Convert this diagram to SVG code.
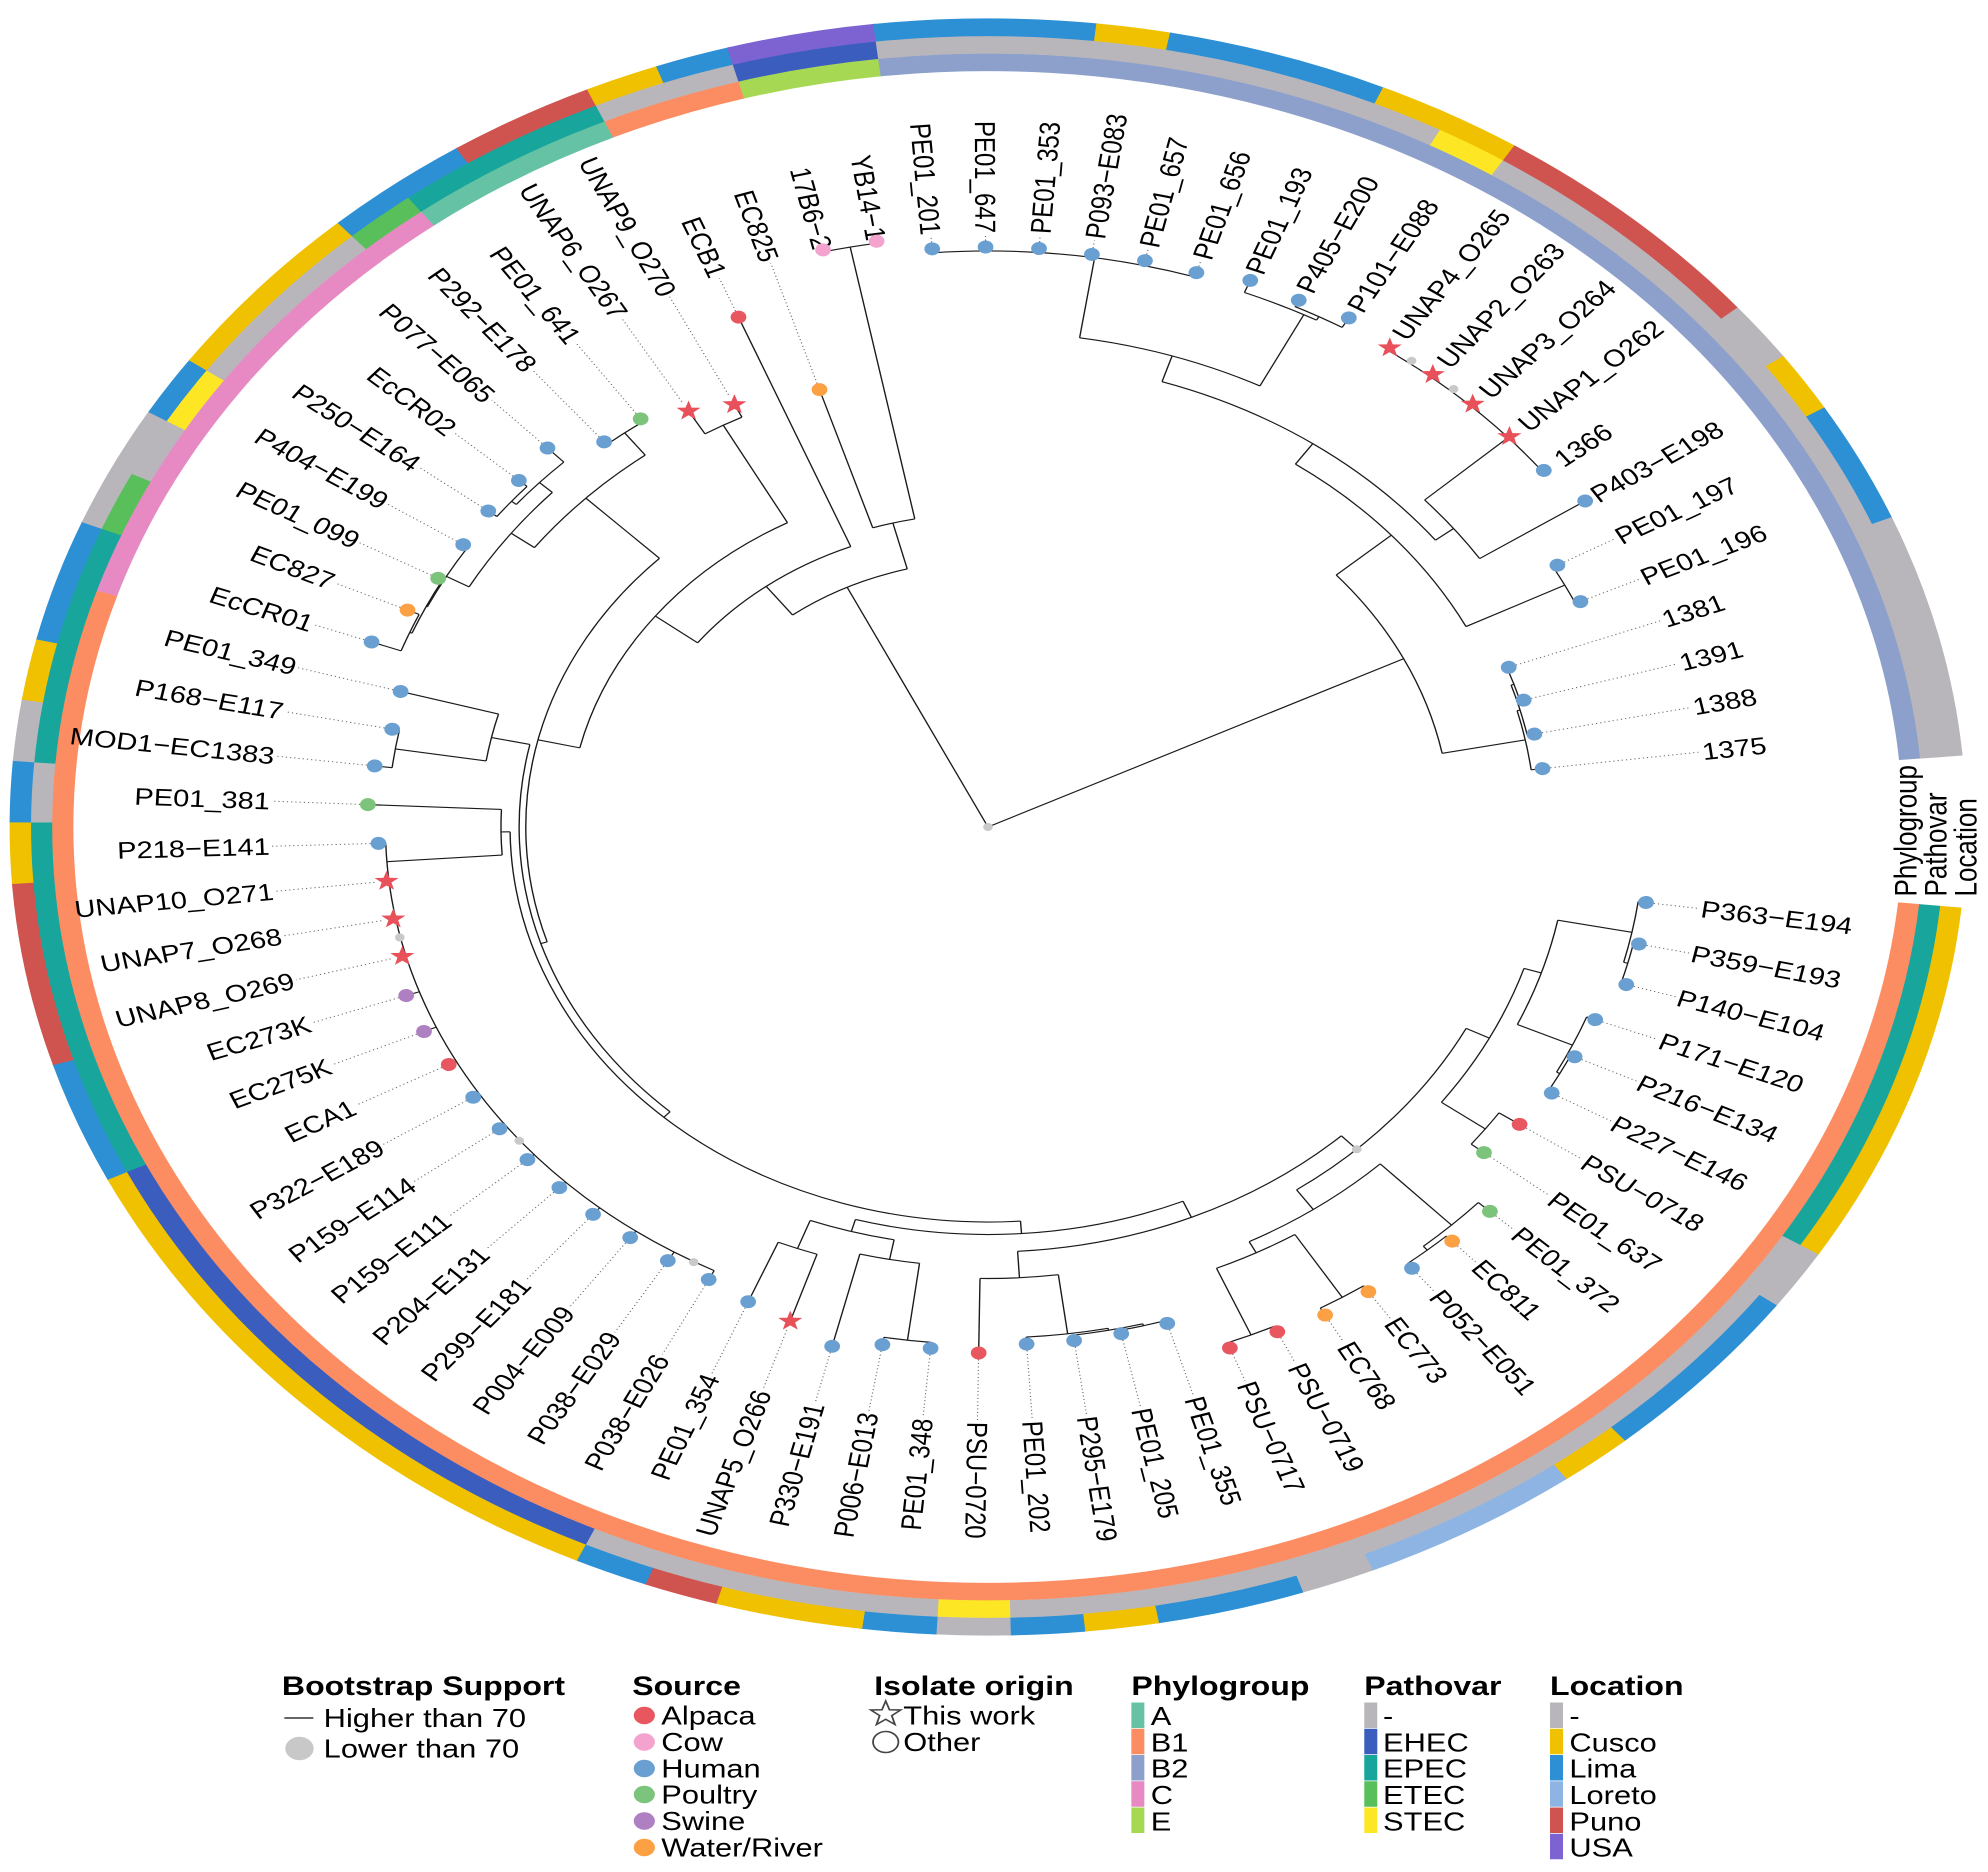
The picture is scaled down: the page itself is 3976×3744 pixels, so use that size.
<svg xmlns="http://www.w3.org/2000/svg" width="3976" height="3744" viewBox="0 0 3976 3744">
<style>
text{font-family:"Liberation Sans",Arial,Helvetica,sans-serif;fill:#000}
.lab{font-size:48px}
.t{fill:none;stroke:#1a1a1a;stroke-width:2.3}
.d{fill:none;stroke:#666;stroke-width:2;stroke-dasharray:2 5}
.r{fill:none;stroke-width:35.5}
.H{fill:#6A9FD1}.A{fill:#E8575F}.P{fill:#7CC47C}.W{fill:#FCA044}.S{fill:#AE7FC1}.C{fill:#F4A3CF}
.lb{fill:#C9C9C9}
.lt{font-size:53px;font-weight:bold}
.li{font-size:51px}
</style>
<defs>
<polygon id="st" fill="#E8505A" points="0,-21 5,-6.9 20,-6.5 8.1,2.6 12.3,17 0,8.5 -12.3,17 -8.1,2.6 -20,-6.5 -5,-6.9"/>
</defs>
<rect width="3976" height="3744" fill="#fff"/>
<g transform="translate(1976,1654) scale(1.21,1)">
<g id="rings">
<g id="ring-phylogroup">
<circle class="r" r="1529.5" pathLength="360" stroke="#FC8D62" stroke-dasharray="192.2 400" transform="rotate(5.72)"/>
<circle class="r" r="1529.5" pathLength="360" stroke="#E78AC3" stroke-dasharray="35.05 400" transform="rotate(197.79)"/>
<circle class="r" r="1529.5" pathLength="360" stroke="#66C2A5" stroke-dasharray="13.2 400" transform="rotate(232.71)"/>
<circle class="r" r="1529.5" pathLength="360" stroke="#FC8D62" stroke-dasharray="8.85 400" transform="rotate(245.80)"/>
<circle class="r" r="1529.5" pathLength="360" stroke="#A6D854" stroke-dasharray="8.85 400" transform="rotate(254.53)"/>
<circle class="r" r="1529.5" pathLength="360" stroke="#8DA0CB" stroke-dasharray="91.67 400" transform="rotate(263.26)"/>
</g>
<g id="ring-pathovar">
<circle class="r" r="1564.5" pathLength="360" stroke="#18A59B" stroke-dasharray="26.3 400" transform="rotate(5.72)"/>
<circle class="r" r="1564.5" pathLength="360" stroke="#B8B6BA" stroke-dasharray="56.85 400" transform="rotate(31.91)"/>
<circle class="r" r="1564.5" pathLength="360" stroke="#FDE725" stroke-dasharray="4.5 400" transform="rotate(88.66)"/>
<circle class="r" r="1564.5" pathLength="360" stroke="#B8B6BA" stroke-dasharray="21.95 400" transform="rotate(93.02)"/>
<circle class="r" r="1564.5" pathLength="360" stroke="#3A5DBE" stroke-dasharray="39.4 400" transform="rotate(114.85)"/>
<circle class="r" r="1564.5" pathLength="360" stroke="#18A59B" stroke-dasharray="26.3 400" transform="rotate(154.13)"/>
<circle class="r" r="1564.5" pathLength="360" stroke="#B8B6BA" stroke-dasharray="4.5 400" transform="rotate(180.33)"/>
<circle class="r" r="1564.5" pathLength="360" stroke="#18A59B" stroke-dasharray="17.6 400" transform="rotate(184.69)"/>
<circle class="r" r="1564.5" pathLength="360" stroke="#58BF5A" stroke-dasharray="4.5 400" transform="rotate(202.15)"/>
<circle class="r" r="1564.5" pathLength="360" stroke="#B8B6BA" stroke-dasharray="4.5 400" transform="rotate(206.52)"/>
<circle class="r" r="1564.5" pathLength="360" stroke="#FDE725" stroke-dasharray="4.5 400" transform="rotate(210.88)"/>
<circle class="r" r="1564.5" pathLength="360" stroke="#B8B6BA" stroke-dasharray="13.2 400" transform="rotate(215.25)"/>
<circle class="r" r="1564.5" pathLength="360" stroke="#58BF5A" stroke-dasharray="4.5 400" transform="rotate(228.34)"/>
<circle class="r" r="1564.5" pathLength="360" stroke="#18A59B" stroke-dasharray="13.2 400" transform="rotate(232.71)"/>
<circle class="r" r="1564.5" pathLength="360" stroke="#B8B6BA" stroke-dasharray="8.85 400" transform="rotate(245.80)"/>
<circle class="r" r="1564.5" pathLength="360" stroke="#3A5DBE" stroke-dasharray="8.85 400" transform="rotate(254.53)"/>
<circle class="r" r="1564.5" pathLength="360" stroke="#B8B6BA" stroke-dasharray="35.05 400" transform="rotate(263.26)"/>
<circle class="r" r="1564.5" pathLength="360" stroke="#FDE725" stroke-dasharray="4.5 400" transform="rotate(298.18)"/>
<circle class="r" r="1564.5" pathLength="360" stroke="#B8B6BA" stroke-dasharray="52.38 400" transform="rotate(302.55)"/>
</g>
<g id="ring-location">
<circle class="r" r="1599.5" pathLength="360" stroke="#F0C100" stroke-dasharray="26.3 400" transform="rotate(5.72)"/>
<circle class="r" r="1599.5" pathLength="360" stroke="#B8B6BA" stroke-dasharray="4.5 400" transform="rotate(31.91)"/>
<circle class="r" r="1599.5" pathLength="360" stroke="#2D8FD4" stroke-dasharray="13.2 400" transform="rotate(36.27)"/>
<circle class="r" r="1599.5" pathLength="360" stroke="#F0C100" stroke-dasharray="4.5 400" transform="rotate(49.37)"/>
<circle class="r" r="1599.5" pathLength="360" stroke="#8DB4E2" stroke-dasharray="13.2 400" transform="rotate(53.74)"/>
<circle class="r" r="1599.5" pathLength="360" stroke="#B8B6BA" stroke-dasharray="4.5 400" transform="rotate(66.83)"/>
<circle class="r" r="1599.5" pathLength="360" stroke="#2D8FD4" stroke-dasharray="8.85 400" transform="rotate(71.20)"/>
<circle class="r" r="1599.5" pathLength="360" stroke="#F0C100" stroke-dasharray="4.5 400" transform="rotate(79.93)"/>
<circle class="r" r="1599.5" pathLength="360" stroke="#2D8FD4" stroke-dasharray="4.5 400" transform="rotate(84.29)"/>
<circle class="r" r="1599.5" pathLength="360" stroke="#B8B6BA" stroke-dasharray="4.5 400" transform="rotate(88.66)"/>
<circle class="r" r="1599.5" pathLength="360" stroke="#2D8FD4" stroke-dasharray="4.5 400" transform="rotate(93.02)"/>
<circle class="r" r="1599.5" pathLength="360" stroke="#F0C100" stroke-dasharray="8.85 400" transform="rotate(97.39)"/>
<circle class="r" r="1599.5" pathLength="360" stroke="#CF534E" stroke-dasharray="4.5 400" transform="rotate(106.12)"/>
<circle class="r" r="1599.5" pathLength="360" stroke="#2D8FD4" stroke-dasharray="4.5 400" transform="rotate(110.48)"/>
<circle class="r" r="1599.5" pathLength="360" stroke="#F0C100" stroke-dasharray="39.4 400" transform="rotate(114.85)"/>
<circle class="r" r="1599.5" pathLength="360" stroke="#2D8FD4" stroke-dasharray="8.85 400" transform="rotate(154.13)"/>
<circle class="r" r="1599.5" pathLength="360" stroke="#CF534E" stroke-dasharray="13.2 400" transform="rotate(162.87)"/>
<circle class="r" r="1599.5" pathLength="360" stroke="#F0C100" stroke-dasharray="4.5 400" transform="rotate(175.96)"/>
<circle class="r" r="1599.5" pathLength="360" stroke="#2D8FD4" stroke-dasharray="4.5 400" transform="rotate(180.33)"/>
<circle class="r" r="1599.5" pathLength="360" stroke="#B8B6BA" stroke-dasharray="4.5 400" transform="rotate(184.69)"/>
<circle class="r" r="1599.5" pathLength="360" stroke="#F0C100" stroke-dasharray="4.5 400" transform="rotate(189.06)"/>
<circle class="r" r="1599.5" pathLength="360" stroke="#2D8FD4" stroke-dasharray="8.85 400" transform="rotate(193.42)"/>
<circle class="r" r="1599.5" pathLength="360" stroke="#B8B6BA" stroke-dasharray="8.85 400" transform="rotate(202.15)"/>
<circle class="r" r="1599.5" pathLength="360" stroke="#2D8FD4" stroke-dasharray="4.5 400" transform="rotate(210.88)"/>
<circle class="r" r="1599.5" pathLength="360" stroke="#F0C100" stroke-dasharray="13.2 400" transform="rotate(215.25)"/>
<circle class="r" r="1599.5" pathLength="360" stroke="#2D8FD4" stroke-dasharray="8.85 400" transform="rotate(228.34)"/>
<circle class="r" r="1599.5" pathLength="360" stroke="#CF534E" stroke-dasharray="8.85 400" transform="rotate(237.07)"/>
<circle class="r" r="1599.5" pathLength="360" stroke="#F0C100" stroke-dasharray="4.5 400" transform="rotate(245.80)"/>
<circle class="r" r="1599.5" pathLength="360" stroke="#2D8FD4" stroke-dasharray="4.5 400" transform="rotate(250.17)"/>
<circle class="r" r="1599.5" pathLength="360" stroke="#7D62D1" stroke-dasharray="8.85 400" transform="rotate(254.53)"/>
<circle class="r" r="1599.5" pathLength="360" stroke="#2D8FD4" stroke-dasharray="13.2 400" transform="rotate(263.26)"/>
<circle class="r" r="1599.5" pathLength="360" stroke="#F0C100" stroke-dasharray="4.5 400" transform="rotate(276.36)"/>
<circle class="r" r="1599.5" pathLength="360" stroke="#2D8FD4" stroke-dasharray="13.2 400" transform="rotate(280.72)"/>
<circle class="r" r="1599.5" pathLength="360" stroke="#F0C100" stroke-dasharray="8.85 400" transform="rotate(293.82)"/>
<circle class="r" r="1599.5" pathLength="360" stroke="#CF534E" stroke-dasharray="17.6 400" transform="rotate(302.55)"/>
<circle class="r" r="1599.5" pathLength="360" stroke="#B8B6BA" stroke-dasharray="4.5 400" transform="rotate(320.01)"/>
<circle class="r" r="1599.5" pathLength="360" stroke="#F0C100" stroke-dasharray="4.5 400" transform="rotate(324.37)"/>
<circle class="r" r="1599.5" pathLength="360" stroke="#2D8FD4" stroke-dasharray="8.85 400" transform="rotate(328.74)"/>
<circle class="r" r="1599.5" pathLength="360" stroke="#B8B6BA" stroke-dasharray="17.46 400" transform="rotate(337.47)"/>
</g>
<g id="ring-titles" font-size="52">
<text transform="translate(1535,139) rotate(-90)">Phylogroup</text>
<text transform="translate(1584,139) rotate(-90)">Pathovar</text>
<text transform="translate(1634,139) rotate(-90)">Location</text>
</g>
</g>
<g id="connectors">
<g id="tree">
<line class="t" x1="0" x2="765" transform="rotate(333.9)"/>
<line class="t" x1="0" x2="533" transform="rotate(244.1)"/>
<circle class="t" r="765" pathLength="360" stroke-dasharray="30.1 400" transform="rotate(318.8)"/>
<line class="t" x1="765" x2="905" transform="rotate(348.9)"/>
<circle class="t" r="905" pathLength="360" stroke-dasharray="7.64 400" transform="rotate(345.1)"/>
<line class="t" x1="905" x2="910" transform="rotate(345.1)"/>
<circle class="t" r="910" pathLength="360" stroke-dasharray="6.54 400" transform="rotate(341.83)"/>
<line class="t" x1="910" x2="915" transform="rotate(341.83)"/>
<circle class="t" r="915" pathLength="360" stroke-dasharray="4.37 400" transform="rotate(339.64)"/>
<line class="t" x1="915" x2="921" transform="rotate(344.01)"/>
<line class="t" x1="910" x2="922" transform="rotate(348.37)"/>
<line class="t" x1="905" x2="924" transform="rotate(352.74)"/>
<line class="t" x1="765" x2="886" transform="rotate(318.8)"/>
<circle class="t" r="886" pathLength="360" stroke-dasharray="28.1 400" transform="rotate(305)"/>
<line class="t" x1="886" x2="1069" transform="rotate(333.1)"/>
<circle class="t" r="1069" pathLength="360" stroke-dasharray="4.37 400" transform="rotate(330.91)"/>
<line class="t" x1="1069" x2="1077" transform="rotate(330.91)"/>
<line class="t" x1="1069" x2="1078" transform="rotate(335.28)"/>
<line class="t" x1="886" x2="936" transform="rotate(305)"/>
<circle class="t" r="936" pathLength="360" stroke-dasharray="34.3 400" transform="rotate(287.9)"/>
<line class="t" x1="936" x2="990" transform="rotate(287.9)"/>
<circle class="t" r="990" pathLength="360" stroke-dasharray="18.2 400" transform="rotate(278.8)"/>
<line class="t" x1="990" x2="1152" transform="rotate(278.8)"/>
<circle class="t" r="1152" pathLength="360" stroke-dasharray="21.82 400" transform="rotate(265.44)"/>
<line class="t" x1="990" x2="1150" transform="rotate(297)"/>
<circle class="t" r="1150" pathLength="360" stroke-dasharray="6.55 400" transform="rotate(291.63)"/>
<line class="t" x1="1150" x2="1158" transform="rotate(298.18)"/>
<circle class="t" r="1158" pathLength="360" stroke-dasharray="4.37 400" transform="rotate(295.99)"/>
<line class="t" x1="1150" x2="1176" transform="rotate(291.63)"/>
<line class="t" x1="1158" x2="1172" transform="rotate(295.99)"/>
<line class="t" x1="1158" x2="1180" transform="rotate(300.36)"/>
<line class="t" x1="936" x2="974" transform="rotate(322.2)"/>
<circle class="t" r="974" pathLength="360" stroke-dasharray="8.73 400" transform="rotate(317.82)"/>
<line class="t" x1="974" x2="1160" transform="rotate(317.82)"/>
<circle class="t" r="1160" pathLength="360" stroke-dasharray="17.46 400" transform="rotate(304.72)"/>
<line class="t" x1="974" x2="1183" transform="rotate(326.55)"/>
<circle class="t" r="533" pathLength="360" stroke-dasharray="22.8 400" transform="rotate(232.7)"/>
<line class="t" x1="533" x2="628" transform="rotate(255.5)"/>
<circle class="t" r="628" pathLength="360" stroke-dasharray="6.55 400" transform="rotate(252.34)"/>
<line class="t" x1="628" x2="918" transform="rotate(252.34)"/>
<line class="t" x1="628" x2="1182" transform="rotate(258.89)"/>
<circle class="t" r="1182" pathLength="360" stroke-dasharray="4.36 400" transform="rotate(256.71)"/>
<line class="t" x1="533" x2="605" transform="rotate(232.7)"/>
<circle class="t" r="605" pathLength="360" stroke-dasharray="30.48 400" transform="rotate(217.5)"/>
<line class="t" x1="605" x2="1100" transform="rotate(247.98)"/>
<line class="t" x1="605" x2="693" transform="rotate(217.5)"/>
<circle class="t" r="693" pathLength="360" stroke-dasharray="48.23 400" transform="rotate(193.2)"/>
<line class="t" x1="693" x2="915" transform="rotate(241.43)"/>
<circle class="t" r="915" pathLength="360" stroke-dasharray="4.36 400" transform="rotate(239.25)"/>
<line class="t" x1="915" x2="968" transform="rotate(239.25)"/>
<line class="t" x1="915" x2="943" transform="rotate(243.61)"/>
<line class="t" x1="693" x2="764" transform="rotate(193.2)"/>
<circle class="t" r="764" pathLength="360" stroke-dasharray="62.2 400" transform="rotate(162.5)"/>
<line class="t" x1="764" x2="935" transform="rotate(224.7)"/>
<circle class="t" r="935" pathLength="360" stroke-dasharray="16 400" transform="rotate(216.7)"/>
<line class="t" x1="935" x2="991" transform="rotate(232.7)"/>
<circle class="t" r="991" pathLength="360" stroke-dasharray="4.36 400" transform="rotate(230.52)"/>
<line class="t" x1="935" x2="983" transform="rotate(216.7)"/>
<circle class="t" r="983" pathLength="360" stroke-dasharray="13.66 400" transform="rotate(209.24)"/>
<line class="t" x1="983" x2="1012" transform="rotate(222.9)"/>
<circle class="t" r="1012" pathLength="360" stroke-dasharray="6.55 400" transform="rotate(219.6)"/>
<line class="t" x1="1012" x2="1051" transform="rotate(226.15)"/>
<line class="t" x1="1012" x2="1022" transform="rotate(219.6)"/>
<circle class="t" r="1022" pathLength="360" stroke-dasharray="4.37 400" transform="rotate(217.42)"/>
<line class="t" x1="1022" x2="1040" transform="rotate(217.42)"/>
<line class="t" x1="1022" x2="1040" transform="rotate(221.79)"/>
<line class="t" x1="983" x2="1026" transform="rotate(209.24)"/>
<circle class="t" r="1026" pathLength="360" stroke-dasharray="7.64 400" transform="rotate(205.42)"/>
<line class="t" x1="1026" x2="1035" transform="rotate(213.06)"/>
<line class="t" x1="1026" x2="1028" transform="rotate(205.42)"/>
<circle class="t" r="1028" pathLength="360" stroke-dasharray="6.54 400" transform="rotate(202.15)"/>
<line class="t" x1="1028" x2="1036" transform="rotate(208.69)"/>
<line class="t" x1="1028" x2="1032" transform="rotate(202.15)"/>
<circle class="t" r="1032" pathLength="360" stroke-dasharray="4.37 400" transform="rotate(199.96)"/>
<line class="t" x1="1032" x2="1053" transform="rotate(204.33)"/>
<line class="t" x1="1032" x2="1084" transform="rotate(199.96)"/>
<line class="t" x1="764" x2="775" transform="rotate(162.5)"/>
<circle class="t" r="775" pathLength="360" stroke-dasharray="59.6 400" transform="rotate(132.7)"/>
<line class="t" x1="775" x2="840" transform="rotate(192.3)"/>
<circle class="t" r="840" pathLength="360" stroke-dasharray="6.55 400" transform="rotate(189.05)"/>
<line class="t" x1="840" x2="1008" transform="rotate(195.6)"/>
<line class="t" x1="840" x2="992" transform="rotate(189.05)"/>
<circle class="t" r="992" pathLength="360" stroke-dasharray="4.36 400" transform="rotate(186.87)"/>
<line class="t" x1="992" x2="1021" transform="rotate(186.87)"/>
<line class="t" x1="992" x2="1004" transform="rotate(191.23)"/>
<line class="t" x1="775" x2="790" transform="rotate(132.7)"/>
<circle class="t" r="790" pathLength="360" stroke-dasharray="93.2 400" transform="rotate(86.1)"/>
<line class="t" x1="790" x2="805" transform="rotate(179.3)"/>
<circle class="t" r="805" pathLength="360" stroke-dasharray="6.5 400" transform="rotate(176)"/>
<line class="t" x1="805" x2="1026" transform="rotate(182.5)"/>
<line class="t" x1="805" x2="996" transform="rotate(176)"/>
<circle class="t" r="996" pathLength="360" stroke-dasharray="61.11 400" transform="rotate(117.03)"/>
<line class="t" x1="996" x2="1016" transform="rotate(117.03)"/>
<line class="t" x1="996" x2="1016" transform="rotate(121.39)"/>
<line class="t" x1="996" x2="1012" transform="rotate(125.76)"/>
<line class="t" x1="996" x2="1013" transform="rotate(130.12)"/>
<line class="t" x1="996" x2="1011" transform="rotate(134.49)"/>
<line class="t" x1="996" x2="1011" transform="rotate(138.85)"/>
<line class="t" x1="996" x2="1008" transform="rotate(143.22)"/>
<line class="t" x1="996" x2="1008" transform="rotate(147.58)"/>
<line class="t" x1="996" x2="1010" transform="rotate(151.95)"/>
<line class="t" x1="996" x2="1018" transform="rotate(156.31)"/>
<line class="t" x1="996" x2="1019" transform="rotate(160.68)"/>
<line class="t" x1="996" x2="1008" transform="rotate(178.14)"/>
<line class="t" x1="790" x2="815" transform="rotate(86.1)"/>
<circle class="t" r="815" pathLength="360" stroke-dasharray="38.9 400" transform="rotate(66.7)"/>
<line class="t" x1="815" x2="840" transform="rotate(105.6)"/>
<circle class="t" r="840" pathLength="360" stroke-dasharray="9.83 400" transform="rotate(100.65)"/>
<line class="t" x1="840" x2="880" transform="rotate(100.65)"/>
<circle class="t" r="880" pathLength="360" stroke-dasharray="6.54 400" transform="rotate(97.39)"/>
<line class="t" x1="880" x2="1035" transform="rotate(97.39)"/>
<circle class="t" r="1035" pathLength="360" stroke-dasharray="4.37 400" transform="rotate(95.2)"/>
<line class="t" x1="1035" x2="1047" transform="rotate(95.2)"/>
<line class="t" x1="1035" x2="1050" transform="rotate(99.57)"/>
<line class="t" x1="880" x2="1070" transform="rotate(103.93)"/>
<line class="t" x1="840" x2="900" transform="rotate(110.48)"/>
<circle class="t" r="900" pathLength="360" stroke-dasharray="4.36 400" transform="rotate(108.3)"/>
<line class="t" x1="900" x2="1041" transform="rotate(108.3)"/>
<line class="t" x1="900" x2="1029" transform="rotate(112.66)"/>
<line class="t" x1="815" x2="850" transform="rotate(66.7)"/>
<circle class="t" r="850" pathLength="360" stroke-dasharray="40.1 400" transform="rotate(46.6)"/>
<line class="t" x1="850" x2="903" transform="rotate(86.7)"/>
<circle class="t" r="903" pathLength="360" stroke-dasharray="8.24 400" transform="rotate(82.6)"/>
<line class="t" x1="903" x2="1052" transform="rotate(90.84)"/>
<line class="t" x1="903" x2="1022" transform="rotate(82.6)"/>
<circle class="t" r="1022" pathLength="360" stroke-dasharray="7.67 400" transform="rotate(78.8)"/>
<line class="t" x1="1022" x2="1036" transform="rotate(86.47)"/>
<line class="t" x1="1022" x2="1026" transform="rotate(78.8)"/>
<circle class="t" r="1026" pathLength="360" stroke-dasharray="6.55 400" transform="rotate(75.56)"/>
<line class="t" x1="1026" x2="1037" transform="rotate(82.11)"/>
<line class="t" x1="1026" x2="1030" transform="rotate(75.56)"/>
<circle class="t" r="1030" pathLength="360" stroke-dasharray="4.36 400" transform="rotate(73.38)"/>
<line class="t" x1="1030" x2="1036" transform="rotate(73.38)"/>
<line class="t" x1="1030" x2="1037" transform="rotate(77.74)"/>
<line class="t" x1="850" x2="887" transform="rotate(46.6)"/>
<circle class="t" r="887" pathLength="360" stroke-dasharray="27.9 400" transform="rotate(27)"/>
<line class="t" x1="887" x2="935" transform="rotate(54.9)"/>
<circle class="t" r="935" pathLength="360" stroke-dasharray="16.4 400" transform="rotate(46.1)"/>
<line class="t" x1="935" x2="1105" transform="rotate(46.1)"/>
<circle class="t" r="1105" pathLength="360" stroke-dasharray="6.55 400" transform="rotate(42.82)"/>
<line class="t" x1="1105" x2="1131" transform="rotate(42.82)"/>
<line class="t" x1="1105" x2="1115" transform="rotate(49.37)"/>
<circle class="t" r="1115" pathLength="360" stroke-dasharray="4.36 400" transform="rotate(47.19)"/>
<line class="t" x1="1115" x2="1129" transform="rotate(47.19)"/>
<line class="t" x1="1115" x2="1127" transform="rotate(51.55)"/>
<line class="t" x1="935" x2="960" transform="rotate(62.5)"/>
<circle class="t" r="960" pathLength="360" stroke-dasharray="8.73 400" transform="rotate(58.1)"/>
<line class="t" x1="960" x2="1108" transform="rotate(58.1)"/>
<circle class="t" r="1108" pathLength="360" stroke-dasharray="4.36 400" transform="rotate(55.92)"/>
<line class="t" x1="1108" x2="1122" transform="rotate(55.92)"/>
<line class="t" x1="1108" x2="1124" transform="rotate(60.28)"/>
<line class="t" x1="960" x2="1105" transform="rotate(66.83)"/>
<circle class="t" r="1105" pathLength="360" stroke-dasharray="4.36 400" transform="rotate(64.65)"/>
<line class="t" x1="1105" x2="1117" transform="rotate(64.65)"/>
<line class="t" x1="1105" x2="1116" transform="rotate(69.01)"/>
<line class="t" x1="887" x2="930" transform="rotate(27)"/>
<circle class="t" r="930" pathLength="360" stroke-dasharray="18.6 400" transform="rotate(17.7)"/>
<line class="t" x1="930" x2="1020" transform="rotate(36.3)"/>
<circle class="t" r="1020" pathLength="360" stroke-dasharray="4.37 400" transform="rotate(34.09)"/>
<line class="t" x1="1020" x2="1061" transform="rotate(34.09)"/>
<line class="t" x1="1020" x2="1047" transform="rotate(38.46)"/>
<line class="t" x1="930" x2="960" transform="rotate(17.7)"/>
<circle class="t" r="960" pathLength="360" stroke-dasharray="13.1 400" transform="rotate(11.2)"/>
<line class="t" x1="960" x2="1085" transform="rotate(11.2)"/>
<circle class="t" r="1085" pathLength="360" stroke-dasharray="6.55 400" transform="rotate(7.9)"/>
<line class="t" x1="1085" x2="1098" transform="rotate(7.9)"/>
<line class="t" x1="1085" x2="1092" transform="rotate(14.45)"/>
<circle class="t" r="1092" pathLength="360" stroke-dasharray="4.36 400" transform="rotate(12.27)"/>
<line class="t" x1="1092" x2="1101" transform="rotate(12.27)"/>
<line class="t" x1="1092" x2="1101" transform="rotate(16.63)"/>
<line class="t" x1="960" x2="1060" transform="rotate(24.3)"/>
<circle class="t" r="1060" pathLength="360" stroke-dasharray="6.55 400" transform="rotate(21)"/>
<line class="t" x1="1060" x2="1075" transform="rotate(21)"/>
<line class="t" x1="1060" x2="1066" transform="rotate(27.55)"/>
<circle class="t" r="1066" pathLength="360" stroke-dasharray="4.37 400" transform="rotate(25.36)"/>
<line class="t" x1="1066" x2="1073" transform="rotate(25.36)"/>
<line class="t" x1="1066" x2="1073" transform="rotate(29.73)"/>
</g>
<g id="leader-lines">
<line class="d" x1="1111" x2="1186" transform="rotate(7.90)"/>
<line class="d" x1="1114" x2="1186" transform="rotate(12.27)"/>
<line class="d" x1="1114" x2="1186" transform="rotate(16.63)"/>
<line class="d" x1="1088" x2="1186" transform="rotate(21.00)"/>
<line class="d" x1="1086" x2="1186" transform="rotate(25.36)"/>
<line class="d" x1="1086" x2="1186" transform="rotate(29.73)"/>
<line class="d" x1="1074" x2="1186" transform="rotate(34.09)"/>
<line class="d" x1="1060" x2="1186" transform="rotate(38.46)"/>
<line class="d" x1="1144" x2="1186" transform="rotate(42.82)"/>
<line class="d" x1="1142" x2="1186" transform="rotate(47.19)"/>
<line class="d" x1="1140" x2="1186" transform="rotate(51.55)"/>
<line class="d" x1="1135" x2="1186" transform="rotate(55.92)"/>
<line class="d" x1="1137" x2="1186" transform="rotate(60.28)"/>
<line class="d" x1="1130" x2="1186" transform="rotate(64.65)"/>
<line class="d" x1="1129" x2="1186" transform="rotate(69.01)"/>
<line class="d" x1="1049" x2="1186" transform="rotate(73.38)"/>
<line class="d" x1="1050" x2="1186" transform="rotate(77.74)"/>
<line class="d" x1="1050" x2="1186" transform="rotate(82.11)"/>
<line class="d" x1="1049" x2="1186" transform="rotate(86.47)"/>
<line class="d" x1="1065" x2="1186" transform="rotate(90.84)"/>
<line class="d" x1="1060" x2="1184" transform="rotate(95.20)"/>
<line class="d" x1="1063" x2="1184" transform="rotate(99.57)"/>
<line class="d" x1="1083" x2="1184" transform="rotate(103.93)"/>
<line class="d" x1="1060" x2="1184" transform="rotate(108.30)"/>
<line class="d" x1="1042" x2="1184" transform="rotate(112.66)"/>
<line class="d" x1="1029" x2="1184" transform="rotate(117.03)"/>
<line class="d" x1="1029" x2="1184" transform="rotate(121.39)"/>
<line class="d" x1="1025" x2="1184" transform="rotate(125.76)"/>
<line class="d" x1="1026" x2="1184" transform="rotate(130.12)"/>
<line class="d" x1="1024" x2="1184" transform="rotate(134.49)"/>
<line class="d" x1="1024" x2="1184" transform="rotate(138.85)"/>
<line class="d" x1="1021" x2="1184" transform="rotate(143.22)"/>
<line class="d" x1="1021" x2="1184" transform="rotate(147.58)"/>
<line class="d" x1="1023" x2="1184" transform="rotate(151.95)"/>
<line class="d" x1="1031" x2="1184" transform="rotate(156.31)"/>
<line class="d" x1="1032" x2="1184" transform="rotate(160.68)"/>
<line class="d" x1="1022" x2="1184" transform="rotate(165.04)"/>
<line class="d" x1="1020" x2="1184" transform="rotate(169.41)"/>
<line class="d" x1="1020" x2="1184" transform="rotate(173.77)"/>
<line class="d" x1="1021" x2="1184" transform="rotate(178.14)"/>
<line class="d" x1="1039" x2="1184" transform="rotate(182.50)"/>
<line class="d" x1="1034" x2="1184" transform="rotate(186.87)"/>
<line class="d" x1="1017" x2="1184" transform="rotate(191.23)"/>
<line class="d" x1="1021" x2="1184" transform="rotate(195.60)"/>
<line class="d" x1="1097" x2="1184" transform="rotate(199.96)"/>
<line class="d" x1="1066" x2="1184" transform="rotate(204.33)"/>
<line class="d" x1="1049" x2="1184" transform="rotate(208.69)"/>
<line class="d" x1="1048" x2="1184" transform="rotate(213.06)"/>
<line class="d" x1="1053" x2="1184" transform="rotate(217.42)"/>
<line class="d" x1="1053" x2="1184" transform="rotate(221.79)"/>
<line class="d" x1="1064" x2="1184" transform="rotate(226.15)"/>
<line class="d" x1="1011" x2="1184" transform="rotate(230.52)"/>
<line class="d" x1="1011" x2="1184" transform="rotate(234.88)"/>
<line class="d" x1="990" x2="1184" transform="rotate(239.25)"/>
<line class="d" x1="965" x2="1184" transform="rotate(243.61)"/>
<line class="d" x1="1113" x2="1184" transform="rotate(247.98)"/>
<line class="d" x1="931" x2="1184" transform="rotate(252.34)"/>
<line class="d" x1="1173" x2="1186" transform="rotate(265.44)"/>
<line class="d" x1="1173" x2="1186" transform="rotate(269.80)"/>
<line class="d" x1="1173" x2="1186" transform="rotate(274.17)"/>
<line class="d" x1="1171" x2="1186" transform="rotate(278.53)"/>
<line class="d" x1="1175" x2="1186" transform="rotate(282.90)"/>
<line class="d" x1="1174" x2="1186" transform="rotate(287.26)"/>
<line class="d" x1="1090" x2="1186" transform="rotate(330.91)"/>
<line class="d" x1="1091" x2="1186" transform="rotate(335.28)"/>
<line class="d" x1="931" x2="1186" transform="rotate(339.64)"/>
<line class="d" x1="934" x2="1186" transform="rotate(344.01)"/>
<line class="d" x1="935" x2="1186" transform="rotate(348.37)"/>
<line class="d" x1="937" x2="1186" transform="rotate(352.74)"/>
</g>
</g>
<g id="nodes">
<circle class="lb" r="8"/>
<circle class="lb" cx="1166" r="8" transform="rotate(306.9)"/>
<circle class="lb" cx="1166" r="8" transform="rotate(311.3)"/>
<circle class="lb" cx="887" r="8" transform="rotate(46.6)"/>
<circle class="lb" cx="997" r="8" transform="rotate(167.2)"/>
<circle class="lb" cx="997" r="8" transform="rotate(141.0)"/>
<circle class="lb" cx="997" r="8" transform="rotate(119.2)"/>
<g id="leaf-P363-E194"><circle class="H" cx="1098" r="13" transform="rotate(7.90)"/><text class="lab" x="1190" dy="0.35em" transform="rotate(7.90)">P363−E194</text></g>
<g id="leaf-P359-E193"><circle class="H" cx="1101" r="13" transform="rotate(12.27)"/><text class="lab" x="1190" dy="0.35em" transform="rotate(12.27)">P359−E193</text></g>
<g id="leaf-P140-E104"><circle class="H" cx="1101" r="13" transform="rotate(16.63)"/><text class="lab" x="1190" dy="0.35em" transform="rotate(16.63)">P140−E104</text></g>
<g id="leaf-P171-E120"><circle class="H" cx="1075" r="13" transform="rotate(21.00)"/><text class="lab" x="1190" dy="0.35em" transform="rotate(21.00)">P171−E120</text></g>
<g id="leaf-P216-E134"><circle class="H" cx="1073" r="13" transform="rotate(25.36)"/><text class="lab" x="1190" dy="0.35em" transform="rotate(25.36)">P216−E134</text></g>
<g id="leaf-P227-E146"><circle class="H" cx="1073" r="13" transform="rotate(29.73)"/><text class="lab" x="1190" dy="0.35em" transform="rotate(29.73)">P227−E146</text></g>
<g id="leaf-PSU-0718"><circle class="A" cx="1061" r="13" transform="rotate(34.09)"/><text class="lab" x="1190" dy="0.35em" transform="rotate(34.09)">PSU−0718</text></g>
<g id="leaf-PE01_637"><circle class="P" cx="1047" r="13" transform="rotate(38.46)"/><text class="lab" x="1190" dy="0.35em" transform="rotate(38.46)">PE01_637</text></g>
<g id="leaf-PE01_372"><circle class="P" cx="1131" r="13" transform="rotate(42.82)"/><text class="lab" x="1190" dy="0.35em" transform="rotate(42.82)">PE01_372</text></g>
<g id="leaf-EC811"><circle class="W" cx="1129" r="13" transform="rotate(47.19)"/><text class="lab" x="1190" dy="0.35em" transform="rotate(47.19)">EC811</text></g>
<g id="leaf-P052-E051"><circle class="H" cx="1127" r="13" transform="rotate(51.55)"/><text class="lab" x="1190" dy="0.35em" transform="rotate(51.55)">P052−E051</text></g>
<g id="leaf-EC773"><circle class="W" cx="1122" r="13" transform="rotate(55.92)"/><text class="lab" x="1190" dy="0.35em" transform="rotate(55.92)">EC773</text></g>
<g id="leaf-EC768"><circle class="W" cx="1124" r="13" transform="rotate(60.28)"/><text class="lab" x="1190" dy="0.35em" transform="rotate(60.28)">EC768</text></g>
<g id="leaf-PSU-0719"><circle class="A" cx="1117" r="13" transform="rotate(64.65)"/><text class="lab" x="1190" dy="0.35em" transform="rotate(64.65)">PSU−0719</text></g>
<g id="leaf-PSU-0717"><circle class="A" cx="1116" r="13" transform="rotate(69.01)"/><text class="lab" x="1190" dy="0.35em" transform="rotate(69.01)">PSU−0717</text></g>
<g id="leaf-PE01_355"><circle class="H" cx="1036" r="13" transform="rotate(73.38)"/><text class="lab" x="1190" dy="0.35em" transform="rotate(73.38)">PE01_355</text></g>
<g id="leaf-PE01_205"><circle class="H" cx="1037" r="13" transform="rotate(77.74)"/><text class="lab" x="1190" dy="0.35em" transform="rotate(77.74)">PE01_205</text></g>
<g id="leaf-P295-E179"><circle class="H" cx="1037" r="13" transform="rotate(82.11)"/><text class="lab" x="1190" dy="0.35em" transform="rotate(82.11)">P295−E179</text></g>
<g id="leaf-PE01_202"><circle class="H" cx="1036" r="13" transform="rotate(86.47)"/><text class="lab" x="1190" dy="0.35em" transform="rotate(86.47)">PE01_202</text></g>
<g id="leaf-PSU-0720"><circle class="A" cx="1052" r="13" transform="rotate(90.84)"/><text class="lab" x="1190" dy="0.35em" transform="rotate(90.84)">PSU−0720</text></g>
<g id="leaf-PE01_348"><circle class="H" cx="1047" r="13" transform="rotate(95.20)"/><text class="lab" x="-1188" dy="0.35em" text-anchor="end" transform="rotate(275.20)">PE01_348</text></g>
<g id="leaf-P006-E013"><circle class="H" cx="1050" r="13" transform="rotate(99.57)"/><text class="lab" x="-1188" dy="0.35em" text-anchor="end" transform="rotate(279.57)">P006−E013</text></g>
<g id="leaf-P330-E191"><circle class="H" cx="1070" r="13" transform="rotate(103.93)"/><text class="lab" x="-1188" dy="0.35em" text-anchor="end" transform="rotate(283.93)">P330−E191</text></g>
<g id="leaf-UNAP5_O266"><use href="#st" transform="rotate(108.30) translate(1041,0) rotate(-108.30)"/><text class="lab" x="-1188" dy="0.35em" text-anchor="end" transform="rotate(288.30)">UNAP5_O266</text></g>
<g id="leaf-PE01_354"><circle class="H" cx="1029" r="13" transform="rotate(112.66)"/><text class="lab" x="-1188" dy="0.35em" text-anchor="end" transform="rotate(292.66)">PE01_354</text></g>
<g id="leaf-P038-E026"><circle class="H" cx="1016" r="13" transform="rotate(117.03)"/><text class="lab" x="-1188" dy="0.35em" text-anchor="end" transform="rotate(297.03)">P038−E026</text></g>
<g id="leaf-P038-E029"><circle class="H" cx="1016" r="13" transform="rotate(121.39)"/><text class="lab" x="-1188" dy="0.35em" text-anchor="end" transform="rotate(301.39)">P038−E029</text></g>
<g id="leaf-P004-E009"><circle class="H" cx="1012" r="13" transform="rotate(125.76)"/><text class="lab" x="-1188" dy="0.35em" text-anchor="end" transform="rotate(305.76)">P004−E009</text></g>
<g id="leaf-P299-E181"><circle class="H" cx="1013" r="13" transform="rotate(130.12)"/><text class="lab" x="-1188" dy="0.35em" text-anchor="end" transform="rotate(310.12)">P299−E181</text></g>
<g id="leaf-P204-E131"><circle class="H" cx="1011" r="13" transform="rotate(134.49)"/><text class="lab" x="-1188" dy="0.35em" text-anchor="end" transform="rotate(314.49)">P204−E131</text></g>
<g id="leaf-P159-E111"><circle class="H" cx="1011" r="13" transform="rotate(138.85)"/><text class="lab" x="-1188" dy="0.35em" text-anchor="end" transform="rotate(318.85)">P159−E111</text></g>
<g id="leaf-P159-E114"><circle class="H" cx="1008" r="13" transform="rotate(143.22)"/><text class="lab" x="-1188" dy="0.35em" text-anchor="end" transform="rotate(323.22)">P159−E114</text></g>
<g id="leaf-P322-E189"><circle class="H" cx="1008" r="13" transform="rotate(147.58)"/><text class="lab" x="-1188" dy="0.35em" text-anchor="end" transform="rotate(327.58)">P322−E189</text></g>
<g id="leaf-ECA1"><circle class="A" cx="1010" r="13" transform="rotate(151.95)"/><text class="lab" x="-1188" dy="0.35em" text-anchor="end" transform="rotate(331.95)">ECA1</text></g>
<g id="leaf-EC275K"><circle class="S" cx="1018" r="13" transform="rotate(156.31)"/><text class="lab" x="-1188" dy="0.35em" text-anchor="end" transform="rotate(336.31)">EC275K</text></g>
<g id="leaf-EC273K"><circle class="S" cx="1019" r="13" transform="rotate(160.68)"/><text class="lab" x="-1188" dy="0.35em" text-anchor="end" transform="rotate(340.68)">EC273K</text></g>
<g id="leaf-UNAP8_O269"><use href="#st" transform="rotate(165.04) translate(1002,0) rotate(-165.04)"/><text class="lab" x="-1188" dy="0.35em" text-anchor="end" transform="rotate(345.04)">UNAP8_O269</text></g>
<g id="leaf-UNAP7_O268"><use href="#st" transform="rotate(169.41) translate(1000,0) rotate(-169.41)"/><text class="lab" x="-1188" dy="0.35em" text-anchor="end" transform="rotate(349.41)">UNAP7_O268</text></g>
<g id="leaf-UNAP10_O271"><use href="#st" transform="rotate(173.77) translate(1000,0) rotate(-173.77)"/><text class="lab" x="-1188" dy="0.35em" text-anchor="end" transform="rotate(353.77)">UNAP10_O271</text></g>
<g id="leaf-P218-E141"><circle class="H" cx="1008" r="13" transform="rotate(178.14)"/><text class="lab" x="-1188" dy="0.35em" text-anchor="end" transform="rotate(358.14)">P218−E141</text></g>
<g id="leaf-PE01_381"><circle class="P" cx="1026" r="13" transform="rotate(182.50)"/><text class="lab" x="-1188" dy="0.35em" text-anchor="end" transform="rotate(362.50)">PE01_381</text></g>
<g id="leaf-MOD1-EC1383"><circle class="H" cx="1021" r="13" transform="rotate(186.87)"/><text class="lab" x="-1188" dy="0.35em" text-anchor="end" transform="rotate(366.87)">MOD1−EC1383</text></g>
<g id="leaf-P168-E117"><circle class="H" cx="1004" r="13" transform="rotate(191.23)"/><text class="lab" x="-1188" dy="0.35em" text-anchor="end" transform="rotate(371.23)">P168−E117</text></g>
<g id="leaf-PE01_349"><circle class="H" cx="1008" r="13" transform="rotate(195.60)"/><text class="lab" x="-1188" dy="0.35em" text-anchor="end" transform="rotate(375.60)">PE01_349</text></g>
<g id="leaf-EcCR01"><circle class="H" cx="1084" r="13" transform="rotate(199.96)"/><text class="lab" x="-1188" dy="0.35em" text-anchor="end" transform="rotate(379.96)">EcCR01</text></g>
<g id="leaf-EC827"><circle class="W" cx="1053" r="13" transform="rotate(204.33)"/><text class="lab" x="-1188" dy="0.35em" text-anchor="end" transform="rotate(384.33)">EC827</text></g>
<g id="leaf-PE01_099"><circle class="P" cx="1036" r="13" transform="rotate(208.69)"/><text class="lab" x="-1188" dy="0.35em" text-anchor="end" transform="rotate(388.69)">PE01_099</text></g>
<g id="leaf-P404-E199"><circle class="H" cx="1035" r="13" transform="rotate(213.06)"/><text class="lab" x="-1188" dy="0.35em" text-anchor="end" transform="rotate(393.06)">P404−E199</text></g>
<g id="leaf-P250-E164"><circle class="H" cx="1040" r="13" transform="rotate(217.42)"/><text class="lab" x="-1188" dy="0.35em" text-anchor="end" transform="rotate(397.42)">P250−E164</text></g>
<g id="leaf-EcCR02"><circle class="H" cx="1040" r="13" transform="rotate(221.79)"/><text class="lab" x="-1188" dy="0.35em" text-anchor="end" transform="rotate(401.79)">EcCR02</text></g>
<g id="leaf-P077-E065"><circle class="H" cx="1051" r="13" transform="rotate(226.15)"/><text class="lab" x="-1188" dy="0.35em" text-anchor="end" transform="rotate(406.15)">P077−E065</text></g>
<g id="leaf-P292-E178"><circle class="H" cx="998" r="13" transform="rotate(230.52)"/><text class="lab" x="-1188" dy="0.35em" text-anchor="end" transform="rotate(410.52)">P292−E178</text></g>
<g id="leaf-PE01_641"><circle class="P" cx="998" r="13" transform="rotate(234.88)"/><text class="lab" x="-1188" dy="0.35em" text-anchor="end" transform="rotate(414.88)">PE01_641</text></g>
<g id="leaf-UNAP6_O267"><use href="#st" transform="rotate(239.25) translate(968,0) rotate(-239.25)"/><text class="lab" x="-1188" dy="0.35em" text-anchor="end" transform="rotate(419.25)">UNAP6_O267</text></g>
<g id="leaf-UNAP9_O270"><use href="#st" transform="rotate(243.61) translate(943,0) rotate(-243.61)"/><text class="lab" x="-1188" dy="0.35em" text-anchor="end" transform="rotate(423.61)">UNAP9_O270</text></g>
<g id="leaf-ECB1"><circle class="A" cx="1100" r="13" transform="rotate(247.98)"/><text class="lab" x="-1188" dy="0.35em" text-anchor="end" transform="rotate(427.98)">ECB1</text></g>
<g id="leaf-EC825"><circle class="W" cx="918" r="13" transform="rotate(252.34)"/><text class="lab" x="-1188" dy="0.35em" text-anchor="end" transform="rotate(432.34)">EC825</text></g>
<g id="leaf-17B6-2"><text class="lab" x="-1188" dy="0.35em" text-anchor="end" transform="rotate(436.71)">17B6−2</text><circle class="C" cx="1186" r="13" transform="rotate(256.71)"/></g>
<g id="leaf-YB14-1"><text class="lab" x="-1188" dy="0.35em" text-anchor="end" transform="rotate(441.07)">YB14−1</text><circle class="C" cx="1186" r="13" transform="rotate(261.07)"/></g>
<g id="leaf-PE01_201"><circle class="H" cx="1160" r="13" transform="rotate(265.44)"/><text class="lab" x="-1188" dy="0.35em" text-anchor="end" transform="rotate(445.44)">PE01_201</text></g>
<g id="leaf-PE01_647"><circle class="H" cx="1160" r="13" transform="rotate(269.80)"/><text class="lab" x="-1188" dy="0.35em" text-anchor="end" transform="rotate(449.80)">PE01_647</text></g>
<g id="leaf-PE01_353"><circle class="H" cx="1160" r="13" transform="rotate(274.17)"/><text class="lab" x="1190" dy="0.35em" transform="rotate(274.17)">PE01_353</text></g>
<g id="leaf-P093-E083"><circle class="H" cx="1158" r="13" transform="rotate(278.53)"/><text class="lab" x="1190" dy="0.35em" transform="rotate(278.53)">P093−E083</text></g>
<g id="leaf-PE01_657"><circle class="H" cx="1162" r="13" transform="rotate(282.90)"/><text class="lab" x="1190" dy="0.35em" transform="rotate(282.90)">PE01_657</text></g>
<g id="leaf-PE01_656"><circle class="H" cx="1161" r="13" transform="rotate(287.26)"/><text class="lab" x="1190" dy="0.35em" transform="rotate(287.26)">PE01_656</text></g>
<g id="leaf-PE01_193"><circle class="H" cx="1176" r="13" transform="rotate(291.63)"/><text class="lab" x="1192" dy="0.35em" transform="rotate(291.63)">PE01_193</text></g>
<g id="leaf-P405-E200"><circle class="H" cx="1172" r="13" transform="rotate(295.99)"/><text class="lab" x="1192" dy="0.35em" transform="rotate(295.99)">P405−E200</text></g>
<g id="leaf-P101-E088"><circle class="H" cx="1180" r="13" transform="rotate(300.36)"/><text class="lab" x="1198" dy="0.35em" transform="rotate(300.36)">P101−E088</text></g>
<g id="leaf-UNAP4_O265"><use href="#st" transform="rotate(304.72) translate(1166,0) rotate(-304.72)"/><text class="lab" x="1192" dy="0.35em" transform="rotate(304.72)">UNAP4_O265</text></g>
<g id="leaf-UNAP2_O263"><use href="#st" transform="rotate(309.09) translate(1166,0) rotate(-309.09)"/><text class="lab" x="1192" dy="0.35em" transform="rotate(309.09)">UNAP2_O263</text></g>
<g id="leaf-UNAP3_O264"><use href="#st" transform="rotate(313.45) translate(1165,0) rotate(-313.45)"/><text class="lab" x="1192" dy="0.35em" transform="rotate(313.45)">UNAP3_O264</text></g>
<g id="leaf-UNAP1_O262"><use href="#st" transform="rotate(317.82) translate(1163,0) rotate(-317.82)"/><text class="lab" x="1192" dy="0.35em" transform="rotate(317.82)">UNAP1_O262</text></g>
<g id="leaf-1366"><circle class="H" cx="1163" r="13" transform="rotate(322.18)"/><text class="lab" x="1192" dy="0.35em" transform="rotate(322.18)">1366</text></g>
<g id="leaf-P403-E198"><circle class="H" cx="1183" r="13" transform="rotate(326.55)"/><text class="lab" x="1199" dy="0.35em" transform="rotate(326.55)">P403−E198</text></g>
<g id="leaf-PE01_197"><circle class="H" cx="1077" r="13" transform="rotate(330.91)"/><text class="lab" x="1190" dy="0.35em" transform="rotate(330.91)">PE01_197</text></g>
<g id="leaf-PE01_196"><circle class="H" cx="1078" r="13" transform="rotate(335.28)"/><text class="lab" x="1190" dy="0.35em" transform="rotate(335.28)">PE01_196</text></g>
<g id="leaf-1381"><circle class="H" cx="918" r="13" transform="rotate(339.64)"/><text class="lab" x="1190" dy="0.35em" transform="rotate(339.64)">1381</text></g>
<g id="leaf-1391"><circle class="H" cx="921" r="13" transform="rotate(344.01)"/><text class="lab" x="1190" dy="0.35em" transform="rotate(344.01)">1391</text></g>
<g id="leaf-1388"><circle class="H" cx="922" r="13" transform="rotate(348.37)"/><text class="lab" x="1190" dy="0.35em" transform="rotate(348.37)">1388</text></g>
<g id="leaf-1375"><circle class="H" cx="924" r="13" transform="rotate(352.74)"/><text class="lab" x="1190" dy="0.35em" transform="rotate(352.74)">1375</text></g>
</g>
</g>
<g id="legend" transform="scale(1.21,1)">
<g id="legend-bootstrap">
<text class="lt" x="466" y="3390">Bootstrap Support</text>
<line x1="470" y1="3436" x2="518" y2="3436" stroke="#333" stroke-width="3"/>
<text class="li" x="535" y="3454">Higher than 70</text>
<circle cx="495" cy="3497" r="23.5" fill="#C8C8C8"/>
<text class="li" x="535" y="3515">Lower than 70</text>
</g>
<g id="legend-source">
<text class="lt" x="1045" y="3390">Source</text>
<circle cx="1065" cy="3431" r="17.5" fill="#E8575F"/><text class="li" x="1093" y="3449">Alpaca</text>
<circle cx="1065" cy="3484" r="17.5" fill="#F4A3CF"/><text class="li" x="1093" y="3502">Cow</text>
<circle cx="1065" cy="3537" r="17.5" fill="#6A9FD1"/><text class="li" x="1093" y="3555">Human</text>
<circle cx="1065" cy="3589" r="17.5" fill="#7CC47C"/><text class="li" x="1093" y="3607">Poultry</text>
<circle cx="1065" cy="3642" r="17.5" fill="#AE7FC1"/><text class="li" x="1093" y="3660">Swine</text>
<circle cx="1065" cy="3695" r="17.5" fill="#FCA044"/><text class="li" x="1093" y="3713">Water/River</text>
</g>
<g id="legend-origin">
<text class="lt" x="1445" y="3390">Isolate origin</text>
<polygon fill="none" stroke="#444" stroke-width="3" points="1464,3402 1470.2,3419.6 1488.7,3420 1474,3431.3 1479.3,3449.1 1464,3438.5 1448.7,3449.1 1454,3431.3 1439.3,3420 1457.8,3419.6"/>
<text class="li" x="1493" y="3449">This work</text>
<circle cx="1464" cy="3484" r="21" fill="none" stroke="#444" stroke-width="3"/>
<text class="li" x="1493" y="3502">Other</text>
</g>
<g id="legend-phylogroup">
<text class="lt" x="1870" y="3390">Phylogroup</text>
<rect x="1870" y="3405" width="21.5" height="51" fill="#66C2A5"/><text class="li" x="1902" y="3450">A</text>
<rect x="1870" y="3457.5" width="21.5" height="51" fill="#FC8D62"/><text class="li" x="1902" y="3503">B1</text>
<rect x="1870" y="3510" width="21.5" height="51" fill="#8DA0CB"/><text class="li" x="1902" y="3555">B2</text>
<rect x="1870" y="3562.5" width="21.5" height="51" fill="#E78AC3"/><text class="li" x="1902" y="3608">C</text>
<rect x="1870" y="3615" width="21.5" height="51" fill="#A6D854"/><text class="li" x="1902" y="3661">E</text>
</g>
<g id="legend-pathovar">
<text class="lt" x="2255" y="3390">Pathovar</text>
<rect x="2255" y="3405" width="21.5" height="51" fill="#B8B6BA"/><text class="li" x="2286" y="3450">-</text>
<rect x="2255" y="3457.5" width="21.5" height="51" fill="#3A5DBE"/><text class="li" x="2286" y="3503">EHEC</text>
<rect x="2255" y="3510" width="21.5" height="51" fill="#18A59B"/><text class="li" x="2286" y="3555">EPEC</text>
<rect x="2255" y="3562.5" width="21.5" height="51" fill="#58BF5A"/><text class="li" x="2286" y="3608">ETEC</text>
<rect x="2255" y="3615" width="21.5" height="51" fill="#FDE725"/><text class="li" x="2286" y="3661">STEC</text>
</g>
<g id="legend-location">
<text class="lt" x="2562" y="3390">Location</text>
<rect x="2562" y="3405" width="21.5" height="51" fill="#B8B6BA"/><text class="li" x="2594" y="3450">-</text>
<rect x="2562" y="3457.5" width="21.5" height="51" fill="#F0C100"/><text class="li" x="2594" y="3503">Cusco</text>
<rect x="2562" y="3510" width="21.5" height="51" fill="#2D8FD4"/><text class="li" x="2594" y="3555">Lima</text>
<rect x="2562" y="3562.5" width="21.5" height="51" fill="#8DB4E2"/><text class="li" x="2594" y="3608">Loreto</text>
<rect x="2562" y="3615" width="21.5" height="51" fill="#CF534E"/><text class="li" x="2594" y="3661">Puno</text>
<rect x="2562" y="3667.5" width="21.5" height="51" fill="#7D62D1"/><text class="li" x="2594" y="3713">USA</text>
</g>
</g>
</svg>
